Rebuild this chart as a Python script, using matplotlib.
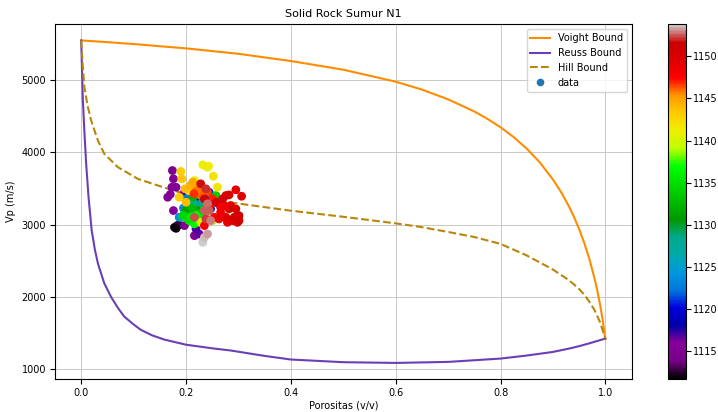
import numpy as np
import matplotlib
matplotlib.use("Agg")
import matplotlib.pyplot as plt
from matplotlib.lines import Line2D

## bounds (porosity vs Vp)
phi_voigt = [0.0, 0.05, 0.1, 0.2, 0.3, 0.4, 0.5, 0.6, 0.65, 0.7, 0.75, 0.775, 0.8, 0.825,
             0.85, 0.875, 0.9, 0.915, 0.93, 0.94, 0.95, 0.96, 0.97, 0.98, 0.985, 0.99,
             0.995, 1.0]
vp_voigt = [5550, 5526, 5500, 5440, 5365, 5265, 5145, 4979, 4870, 4735, 4567, 4465, 4349, 4213,
            4053, 3862, 3627, 3458, 3262, 3111, 2940, 2743, 2514, 2238, 2076, 1892,
            1678, 1420]

phi_reuss = [0.0, 0.003, 0.006, 0.0095, 0.014, 0.02, 0.026, 0.032, 0.044, 0.057, 0.07,
             0.082, 0.1, 0.114, 0.135, 0.159, 0.2, 0.25, 0.285, 0.35, 0.4, 0.5, 0.6,
             0.7, 0.8, 0.85, 0.9, 0.933, 0.95, 0.97, 1.0]
vp_reuss = [5550, 4750, 4300, 3840, 3380, 2920, 2660, 2460, 2190, 2000, 1850,
            1730, 1620, 1545, 1470, 1410, 1340, 1290, 1260, 1185, 1135, 1098, 1088,
            1102, 1148, 1190, 1240, 1290, 1320, 1360, 1425]

phi_hill = [0.0, 0.003, 0.006, 0.012, 0.019, 0.032, 0.044, 0.07, 0.108, 0.152, 0.197,
            0.285, 0.4, 0.5, 0.6, 0.647, 0.7, 0.75, 0.8, 0.85, 0.9, 0.93, 0.94, 0.95,
            0.96, 0.97, 0.98, 0.99, 1.0]
vp_hill = [5550, 5200, 4906, 4650, 4441, 4163, 3982, 3796, 3635, 3529, 3427,
           3308, 3194, 3110, 3019, 2970, 2900, 2830, 2735, 2575, 2380, 2235, 2175, 2110,
           2030, 1930, 1810, 1650, 1425]

## well data: porosity, Vp, depth
porosity = [0.178, 0.183, 0.187, 0.181,
            0.174, 0.176, 0.173, 0.181, 0.165, 0.176, 0.197, 0.197, 0.216, 0.225, 0.219, 0.170,
            0.215, 0.203, 0.213, 0.235, 0.244, 0.247, 0.255, 0.225, 0.260, 0.230, 0.240,
            0.187, 0.198, 0.209, 0.222, 0.200, 0.232, 0.195, 0.205,
            0.213, 0.190, 0.206, 0.216, 0.228, 0.241,
            0.209, 0.222, 0.216, 0.228, 0.203, 0.235, 0.213, 0.257, 0.200, 0.212, 0.225, 0.195,
            0.206, 0.222, 0.216, 0.232, 0.219, 0.203, 0.210, 0.225,
            0.251, 0.241, 0.228,
            0.232, 0.241, 0.243, 0.252, 0.260, 0.216, 0.205, 0.220,
            0.190, 0.192, 0.187, 0.198, 0.208, 0.213, 0.200, 0.225,
            0.232, 0.241, 0.251, 0.244, 0.254, 0.235, 0.228, 0.220, 0.215,
            0.295, 0.306, 0.276, 0.282, 0.270, 0.257, 0.282, 0.295, 0.301, 0.298,
            0.289, 0.276, 0.301, 0.266, 0.285, 0.273, 0.263, 0.292, 0.279, 0.266,
            0.228, 0.238, 0.235, 0.216, 0.235, 0.241, 0.238, 0.244, 0.247,
            0.232, 0.235, 0.241]
vp_data = [2964, 2988, 2997, 2950,
           3750, 3635, 3519, 3519, 3380, 3196, 3449, 2988, 2849, 2872, 2942, 3420,
           3400, 3449, 3358, 3404, 3449, 3219, 3380, 3311, 3300, 3430, 3350,
           3103, 3172, 3265, 3241, 3358, 3150, 3230, 3120,
           3311, 3103, 3265, 3219, 3289, 3265,
           3172, 3196, 3080, 3126, 3150, 3219, 3380, 3404, 3200, 3230, 3160, 3130,
           3057, 3057, 3011, 3103, 3126, 3080, 3110, 3080,
           3057, 3080, 3033,
           3829, 3796, 3810, 3671, 3519, 3612, 3470, 3560,
           3737, 3635, 3380, 3497, 3542, 3588, 3311, 3530,
           3497, 3449, 3358, 3241, 3103, 2988, 3404, 3470, 3430,
           3483, 3394, 3404, 3413, 3358, 3311, 3219, 3219, 3126, 3033,
           3057, 3103, 3057, 3172, 3265, 3265, 3080, 3103, 3033, 3241,
           3566, 3497, 3358, 3103, 3196, 3289, 3080, 3196, 3057,
           2756, 2825, 2872]
depth = [1111.7, 1112.2, 1112.8, 1112.0,
         1114.5, 1115.0, 1115.3, 1115.6, 1115.8, 1116.0, 1116.3, 1114.8, 1115.5, 1116.5, 1116.8, 1115.2,
         1118.5, 1119.0, 1119.5, 1120.0, 1120.5, 1121.0, 1120.2, 1119.8, 1121.5, 1120.8, 1121.2,
         1123.0, 1123.5, 1124.0, 1124.5, 1122.5, 1125.0, 1123.8, 1124.2,
         1126.5, 1127.0, 1127.5, 1128.0, 1128.5, 1126.0,
         1130.5, 1131.0, 1131.5, 1132.0, 1133.0, 1133.5, 1132.5, 1134.0, 1131.2, 1132.8, 1133.2, 1134.5,
         1135.5, 1136.0, 1136.5, 1135.0, 1137.0, 1134.8, 1135.8, 1136.2,
         1139.0, 1138.5, 1139.5,
         1141.0, 1141.5, 1141.2, 1141.8, 1141.5, 1140.8, 1142.2, 1142.5,
         1143.0, 1143.5, 1143.2, 1144.0, 1144.3, 1144.6, 1143.8, 1145.2,
         1146.0, 1146.5, 1147.0, 1147.3, 1147.5, 1147.8, 1146.2, 1145.8, 1146.8,
         1149.0, 1149.5, 1149.2, 1149.8, 1150.0, 1150.3, 1150.5, 1150.8, 1151.0, 1150.6,
         1150.2, 1149.6, 1150.9, 1148.6, 1149.4, 1148.8, 1148.4, 1150.4, 1149.1, 1148.2,
         1151.8, 1152.0, 1151.6, 1152.4, 1152.6, 1152.8, 1152.2, 1152.5, 1152.9,
         1153.8, 1153.5, 1153.3]

fig = plt.figure(figsize=(7.18, 4.12), dpi=100)
ax = fig.add_axes([0.0766, 0.080, 0.803, 0.861])
cax = fig.add_axes([0.930, 0.080, 0.025, 0.861])

ax.plot(phi_voigt, vp_voigt, color='darkorange', lw=1.5, label='Voight Bound')
ax.plot(phi_reuss, vp_reuss, color='#6a3fb5', lw=1.5, label='Reuss Bound')
ax.plot(phi_hill, vp_hill, color='darkgoldenrod', lw=1.5, ls='--', label='Hill Bound')
sc = ax.scatter(porosity, vp_data, c=depth, cmap='nipy_spectral', s=28, zorder=3)

ax.set_title('Solid Rock Sumur N1', fontsize=8, pad=5)
ax.set_xlabel('Porositas (v/v)', fontsize=7, labelpad=1.5)
ax.set_ylabel('Vp (m/s)', fontsize=7)
ax.tick_params(labelsize=7, pad=3)
ax.grid(True, color='#c8c8c8', lw=0.7)

handles, labels = ax.get_legend_handles_labels()
handles.append(Line2D([], [], marker='o', ls='', color='#1f77b4', markersize=4.5))
labels.append('data')
ax.legend(handles, labels, loc='upper right', fontsize=7)

cb = fig.colorbar(sc, cax=cax)
cb.ax.tick_params(labelsize=7, pad=1.5)

fig.savefig('out.png', dpi=100)
